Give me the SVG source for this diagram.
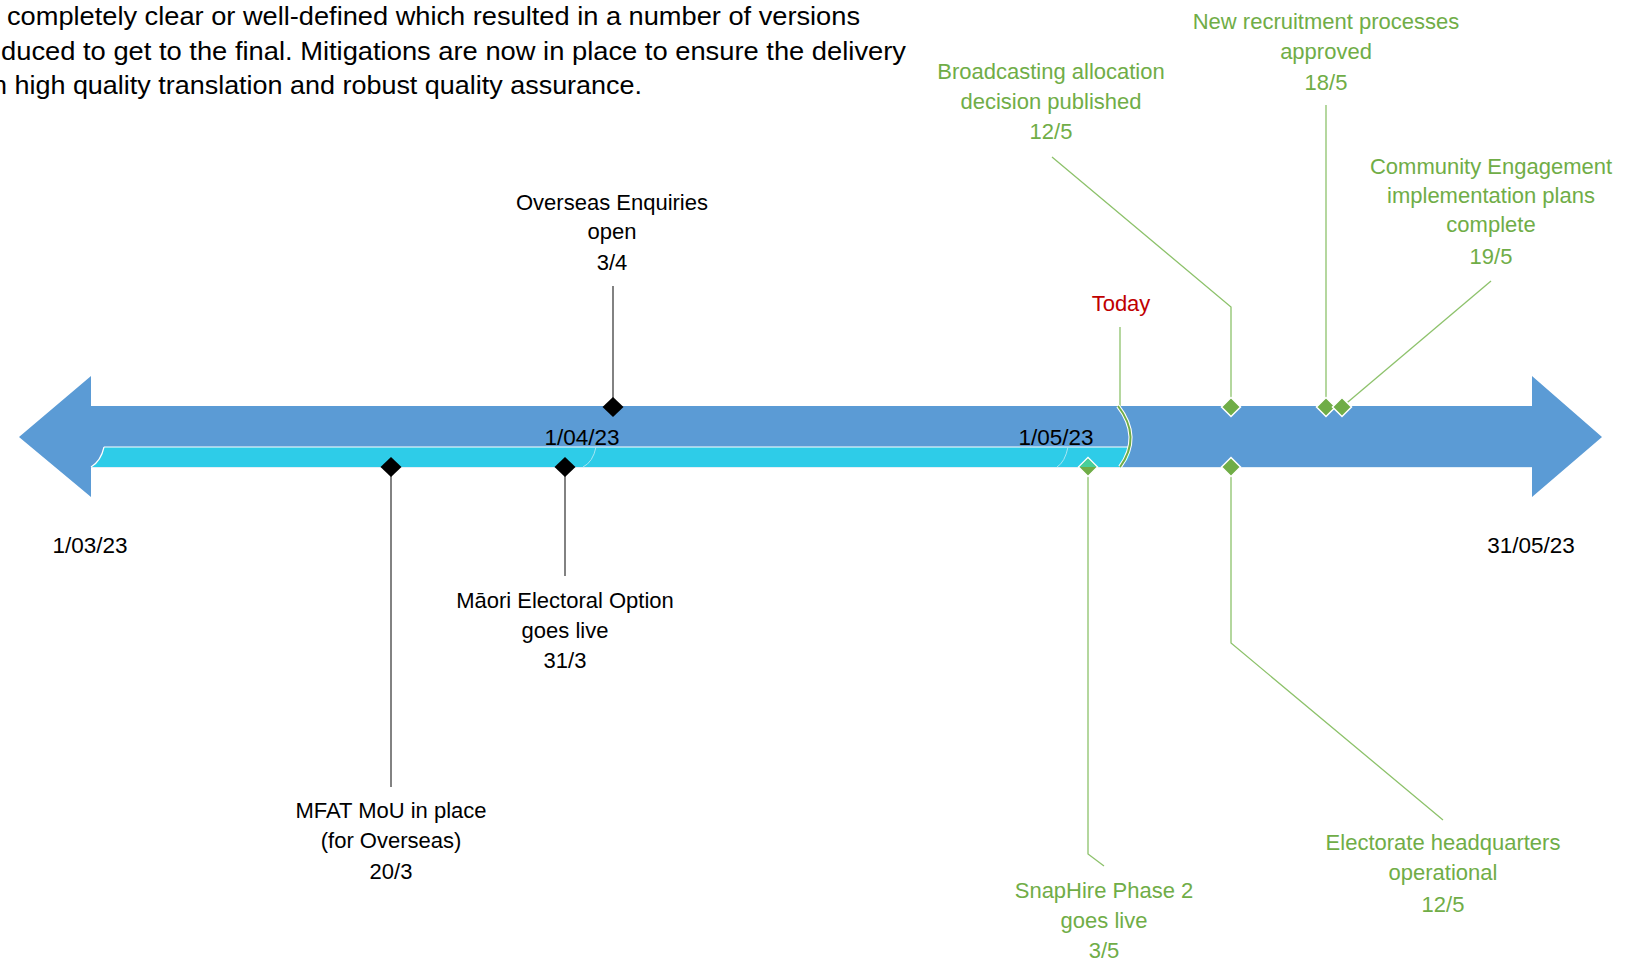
<svg xmlns="http://www.w3.org/2000/svg" width="1633" height="962" viewBox="0 0 1633 962">
<style>
text{font-family:"Liberation Sans",Arial,sans-serif}
.para{font-size:25px;fill:#000}
.lbl{font-size:22px;fill:#000;text-anchor:middle}
.glbl{font-size:22px;fill:#70AD47;text-anchor:middle}
.date{font-size:22.5px;fill:#000;text-anchor:middle}
.today{font-size:22px;fill:#C00000;text-anchor:middle}
.kline{stroke:#595959;stroke-width:1.5;fill:none}
.gline{stroke:#8DC26B;stroke-width:1.3;fill:none}
.kd{fill:#000}
.gd{fill:#70AD47;stroke:#fff;stroke-width:1.5}
</style>
<rect width="1633" height="962" fill="#fff"/>
<g id="paragraph">
<text class="para" x="7" y="25" textLength="853" lengthAdjust="spacingAndGlyphs">completely clear or well-defined which resulted in a number of versions</text>
<text class="para" x="1" y="60" textLength="905" lengthAdjust="spacingAndGlyphs">duced to get to the final. Mitigations are now in place to ensure the delivery</text>
<text class="para" x="-8" y="94" textLength="650" lengthAdjust="spacingAndGlyphs">n high quality translation and robust quality assurance.</text>
</g>
<g id="timeline">
<path d="M19,437 L91,376 L91,406 L1532,406 L1532,376 L1602,437 L1532,497 L1532,467 L91,467 L91,497 Z" fill="#5B9BD5"/>
<path d="M91,467 Q101,461 104,447 L1129.5,447 Q1133,458 1120,467 Z" fill="#2ECCE8"/>
<path d="M91,467 Q101,461 104,447" stroke="#fff" stroke-width="1.2" fill="none"/>
<line x1="104" y1="447" x2="1130" y2="447" stroke="#fff" stroke-width="1.2"/>
<line x1="91" y1="467.5" x2="1532" y2="467.5" stroke="#E3EEF7" stroke-width="1.2"/>
<path d="M596,447 Q593,462 583,467" stroke="#A6E6F3" stroke-width="1" fill="none"/>
<path d="M1068,447 Q1065,462 1057,467" stroke="#A6E6F3" stroke-width="1" fill="none"/>
</g>
<g id="dates">
<text class="date" x="90" y="553">1/03/23</text>
<text class="date" x="582" y="445">1/04/23</text>
<text class="date" x="1056" y="445">1/05/23</text>
<text class="date" x="1531" y="553">31/05/23</text>
</g>
<g id="connectors">
<line class="kline" x1="613" y1="286" x2="613" y2="407"/>
<line class="kline" x1="391" y1="467" x2="391" y2="787"/>
<line class="kline" x1="565" y1="467" x2="565" y2="576"/>
<polyline class="gline" points="1052,157 1231,307 1231,407"/>
<line class="gline" x1="1326" y1="105" x2="1326" y2="407"/>
<line class="gline" x1="1491" y1="281" x2="1342" y2="407"/>
<polyline class="gline" points="1231,467 1231,643 1443,820"/>
<polyline class="gline" points="1088,467 1088,854 1104,866"/>
<line class="gline" x1="1120" y1="327" x2="1120" y2="407"/>
</g>
<g id="today">
<path d="M1118,406 Q1142,437 1120,467" stroke="#fff" stroke-width="4" fill="none"/>
<path d="M1118,406 Q1142,437 1120,467" stroke="#70AD47" stroke-width="2" fill="none"/>
<text class="today" x="1121" y="311">Today</text>
</g>
<g id="overseas-enquiries">
<path class="kd" d="M613,397 L623.5,407 L613,417 L602.5,407 Z"/>
<text class="lbl" x="612" y="210">Overseas Enquiries</text>
<text class="lbl" x="612" y="239">open</text>
<text class="lbl" x="612" y="270">3/4</text>
</g>
<g id="mfat-mou">
<path class="kd" d="M391,457 L401.5,467 L391,477 L380.5,467 Z"/>
<text class="lbl" x="391" y="818">MFAT MoU in place</text>
<text class="lbl" x="391" y="848">(for Overseas)</text>
<text class="lbl" x="391" y="879">20/3</text>
</g>
<g id="maori-electoral-option">
<path class="kd" d="M565,457 L575.5,467 L565,477 L554.5,467 Z"/>
<text class="lbl" x="565" y="608">Māori Electoral Option</text>
<text class="lbl" x="565" y="638">goes live</text>
<text class="lbl" x="565" y="668">31/3</text>
</g>
<g id="broadcasting-allocation">
<path class="gd" d="M1231,397.5 L1240.5,407 L1231,416.5 L1221.5,407 Z"/>
<text class="glbl" x="1051" y="79">Broadcasting allocation</text>
<text class="glbl" x="1051" y="109">decision published</text>
<text class="glbl" x="1051" y="139">12/5</text>
</g>
<g id="new-recruitment">
<path class="gd" d="M1326,397.5 L1335.5,407 L1326,416.5 L1316.5,407 Z"/>
<text class="glbl" x="1326" y="29">New recruitment processes</text>
<text class="glbl" x="1326" y="59">approved</text>
<text class="glbl" x="1326" y="90">18/5</text>
</g>
<g id="community-engagement">
<path class="gd" d="M1342,397.5 L1351.5,407 L1342,416.5 L1332.5,407 Z"/>
<text class="glbl" x="1491" y="174">Community Engagement</text>
<text class="glbl" x="1491" y="203">implementation plans</text>
<text class="glbl" x="1491" y="232">complete</text>
<text class="glbl" x="1491" y="264">19/5</text>
</g>
<g id="electorate-headquarters">
<path class="gd" d="M1231,457.5 L1240.5,467 L1231,476.5 L1221.5,467 Z"/>
<text class="glbl" x="1443" y="850">Electorate headquarters</text>
<text class="glbl" x="1443" y="880">operational</text>
<text class="glbl" x="1443" y="912">12/5</text>
</g>
<g id="snaphire-phase2">
<path class="gd" d="M1088,457.5 L1097.5,467 L1088,476.5 L1078.5,467 Z"/>
<path d="M1088,458.5 L1096.5,467 L1079.5,467 Z" fill="#47CF9A"/>
<text class="glbl" x="1104" y="898">SnapHire Phase 2</text>
<text class="glbl" x="1104" y="928">goes live</text>
<text class="glbl" x="1104" y="958">3/5</text>
</g>
</svg>
